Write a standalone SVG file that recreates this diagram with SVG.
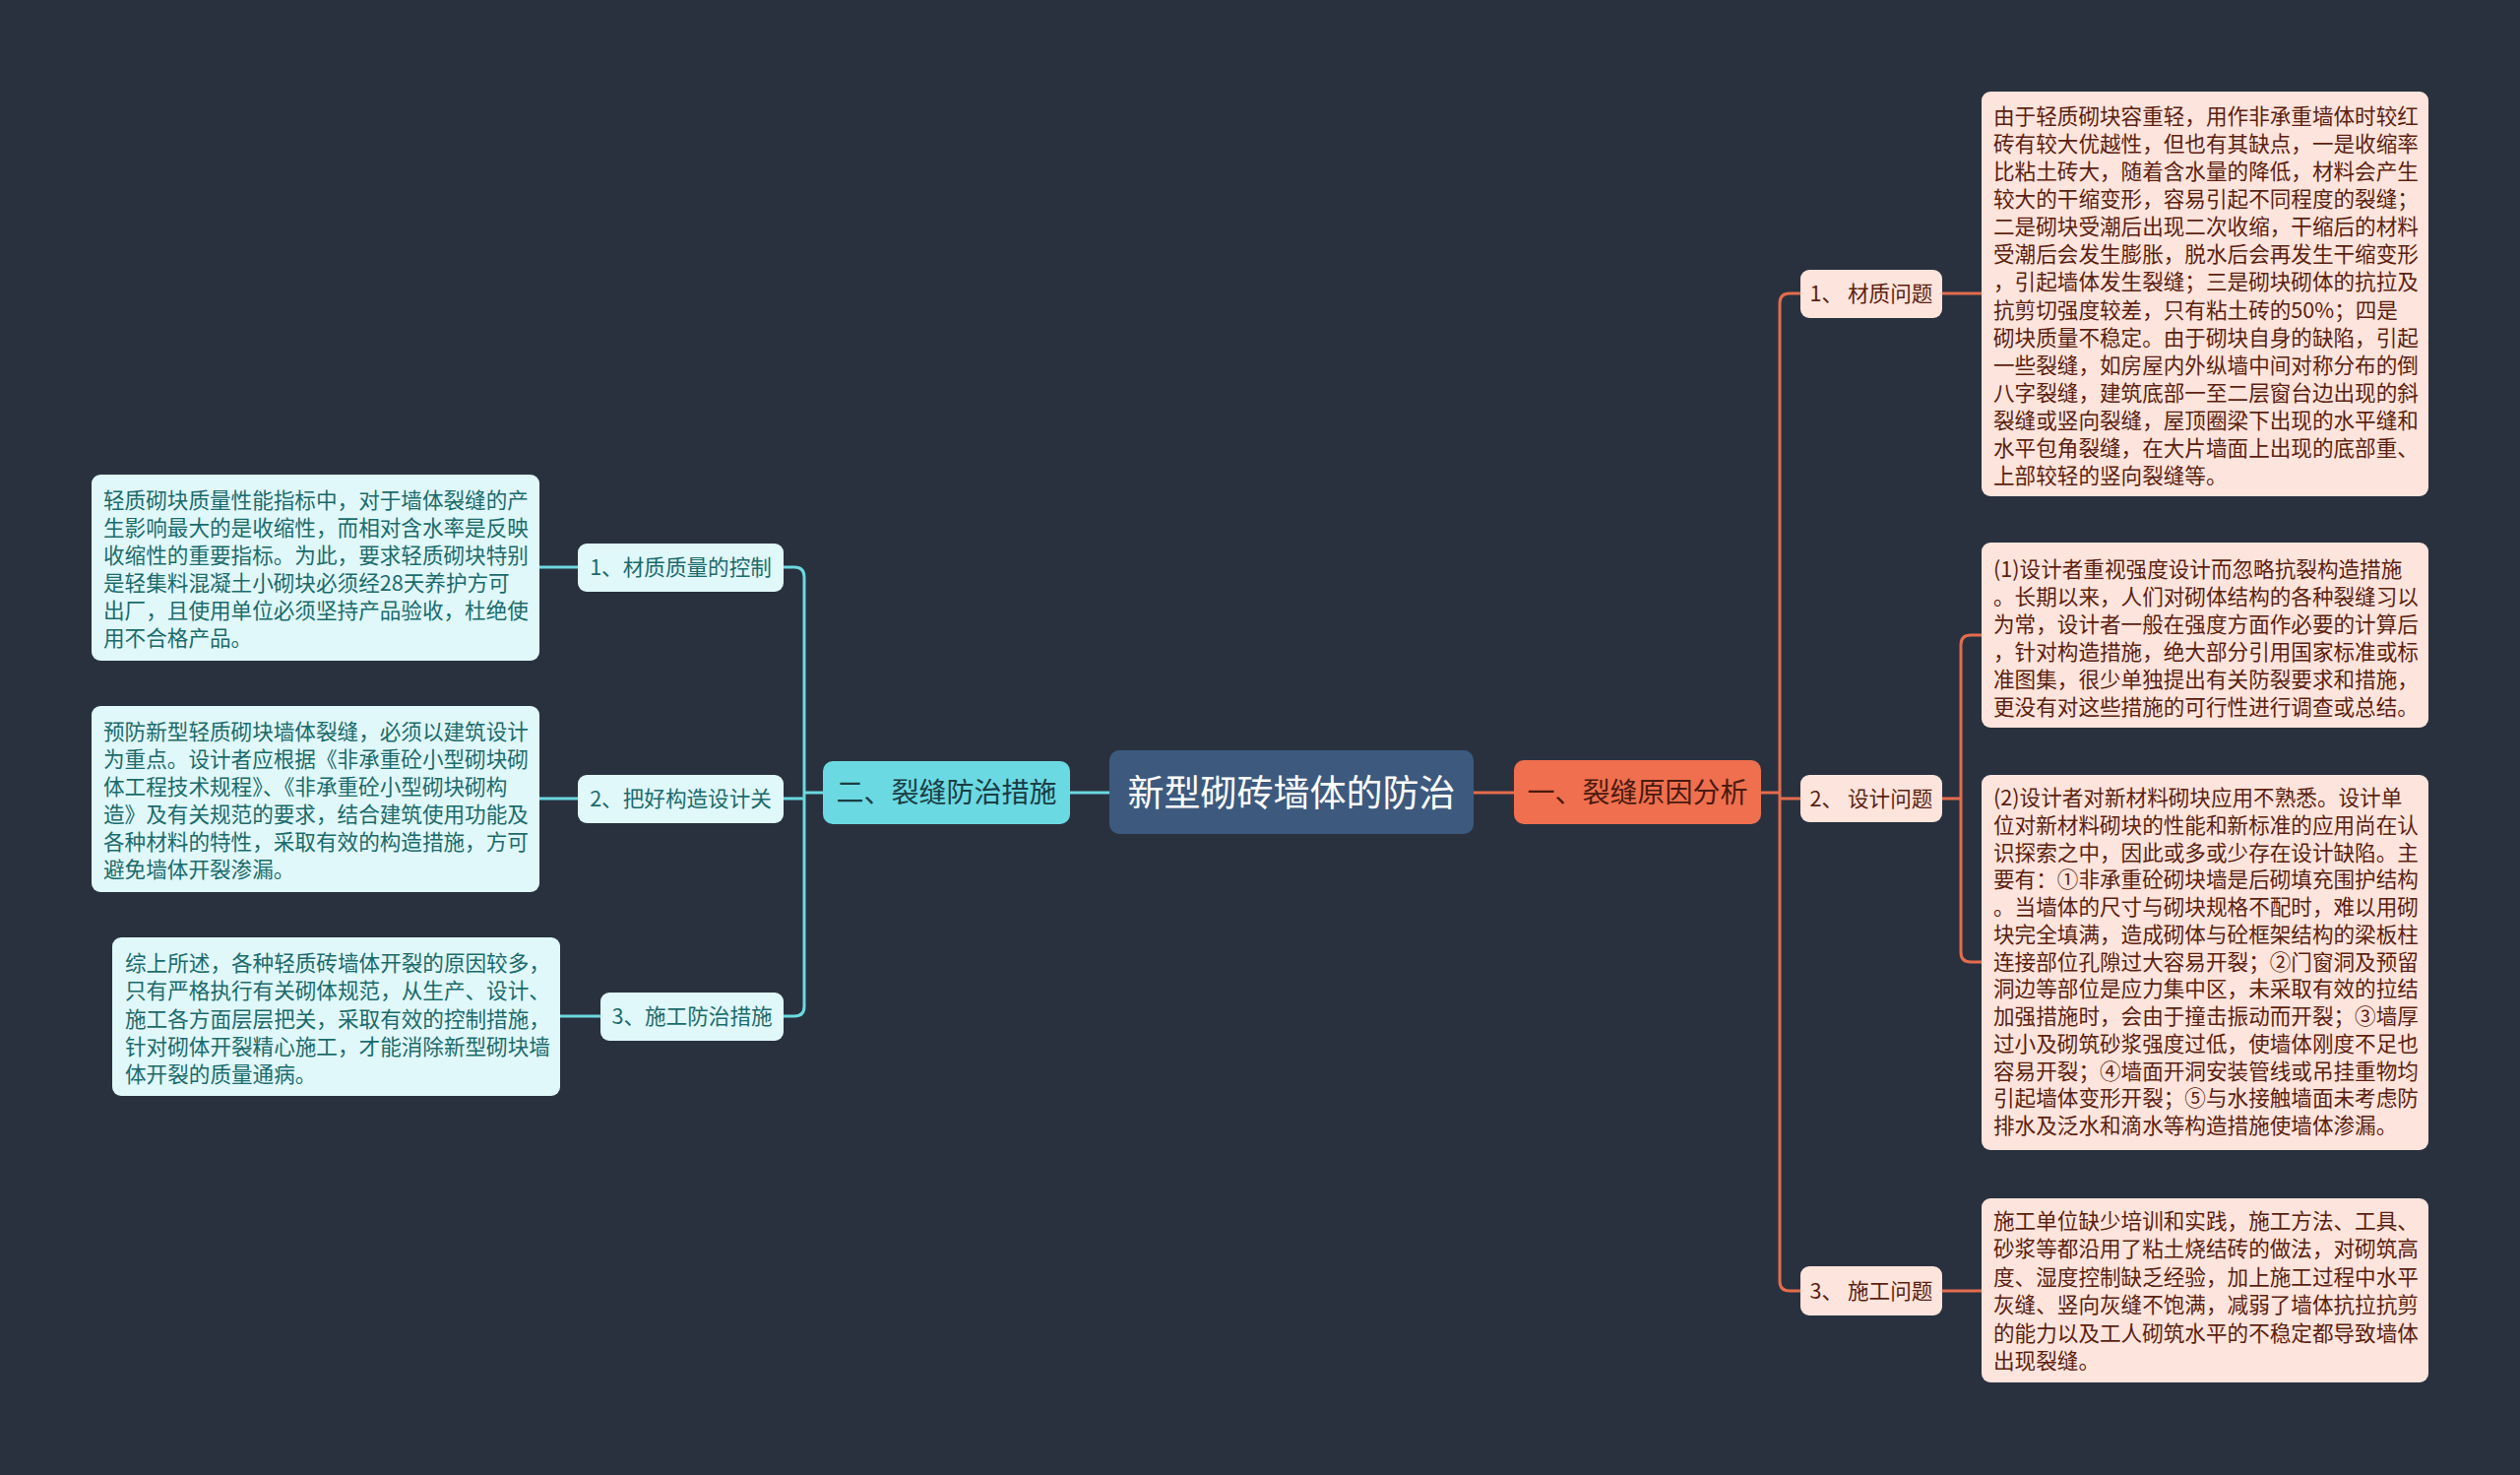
<svg xmlns="http://www.w3.org/2000/svg" width="2560" height="1498" viewBox="0 0 2560 1498">
<style>
.t{font-family:"Noto Sans CJK SC","Noto Sans",sans-serif;}
.leafR{fill:#fde4dc;}
.leafL{fill:#e0f8fa;}
.tr{fill:#5c1f10;font-size:21.6px;}
.tl{fill:#1b6b6c;font-size:21.6px;}
.co{fill:none;stroke:#e46c4d;stroke-width:3;}
.cc{fill:none;stroke:#6cd8e1;stroke-width:3;}
</style>
<rect width="2560" height="1498" fill="#29313f"/>
<g id="connectors">
<path class="co" d="M1497 805H1538"/>
<path class="co" d="M1789 805H1808"/>
<path class="co" d="M1829 298H1818Q1808 298 1808 308V1301Q1808 1311 1818 1311H1829"/>
<path class="co" d="M1808 811H1829"/>
<path class="co" d="M1973 298H2013"/>
<path class="co" d="M1973 811H1992"/>
<path class="co" d="M2013 645H2002Q1992 645 1992 655V967Q1992 977 2002 977H2013"/>
<path class="co" d="M1973 1311H2013"/>
<path class="cc" d="M1087 805H1127"/>
<path class="cc" d="M836 805H817"/>
<path class="cc" d="M796 576H807Q817 576 817 586V1022Q817 1032 807 1032H796"/>
<path class="cc" d="M796 811H817"/>
<path class="cc" d="M587 576H548"/>
<path class="cc" d="M587 811H548"/>
<path class="cc" d="M610 1032H569"/>
</g>
<g id="root">
<rect x="1127" y="762" width="370" height="85" rx="10" fill="#3d5a7e"/>
<text class="t" x="1312" y="819" text-anchor="middle" font-size="37" fill="#ffffff">新型砌砖墙体的防治</text>
</g>
<g id="b1">
<rect x="1538" y="772" width="251" height="65" rx="10" fill="#ef6f4e"/>
<text class="t" x="1663.5" y="815" text-anchor="middle" font-size="28" fill="#4a1a0e">一、裂缝原因分析</text>
</g>
<g id="b2">
<rect x="836" y="773" width="251" height="64" rx="10" fill="#6bd9e2"/>
<text class="t" x="961.5" y="815" text-anchor="middle" font-size="28" fill="#1a3d44">二、裂缝防治措施</text>
</g>
<g id="r1">
<rect class="leafR" x="1829" y="274" width="144" height="49" rx="9"/>
<text class="t tr" x="1901" y="306" text-anchor="middle">1、 材质问题</text>
</g>
<g id="r2">
<rect class="leafR" x="1829" y="787" width="144" height="48" rx="9"/>
<text class="t tr" x="1901" y="819" text-anchor="middle">2、 设计问题</text>
</g>
<g id="r3">
<rect class="leafR" x="1829" y="1286" width="144" height="50" rx="9"/>
<text class="t tr" x="1901" y="1319" text-anchor="middle">3、 施工问题</text>
</g>
<g id="r1a">
<rect class="leafR" x="2013" y="93" width="454" height="411" rx="9"/>
<text class="t tr" x="2025" y="126">
<tspan x="2025" dy="0">由于轻质砌块容重轻，用作非承重墙体时较红</tspan>
<tspan x="2025" dy="28.08">砖有较大优越性，但也有其缺点，一是收缩率</tspan>
<tspan x="2025" dy="28.08">比粘土砖大，随着含水量的降低，材料会产生</tspan>
<tspan x="2025" dy="28.08">较大的干缩变形，容易引起不同程度的裂缝；</tspan>
<tspan x="2025" dy="28.08">二是砌块受潮后出现二次收缩，干缩后的材料</tspan>
<tspan x="2025" dy="28.08">受潮后会发生膨胀，脱水后会再发生干缩变形</tspan>
<tspan x="2025" dy="28.08">，引起墙体发生裂缝；三是砌块砌体的抗拉及</tspan>
<tspan x="2025" dy="28.08">抗剪切强度较差，只有粘土砖的50%；四是</tspan>
<tspan x="2025" dy="28.08">砌块质量不稳定。由于砌块自身的缺陷，引起</tspan>
<tspan x="2025" dy="28.08">一些裂缝，如房屋内外纵墙中间对称分布的倒</tspan>
<tspan x="2025" dy="28.08">八字裂缝，建筑底部一至二层窗台边出现的斜</tspan>
<tspan x="2025" dy="28.08">裂缝或竖向裂缝，屋顶圈梁下出现的水平缝和</tspan>
<tspan x="2025" dy="28.08">水平包角裂缝，在大片墙面上出现的底部重、</tspan>
<tspan x="2025" dy="28.08">上部较轻的竖向裂缝等。</tspan>
</text>
</g>
<g id="r2a">
<rect class="leafR" x="2013" y="551" width="454" height="188" rx="9"/>
<text class="t tr" x="2025" y="586">
<tspan x="2025" dy="0">(1)设计者重视强度设计而忽略抗裂构造措施</tspan>
<tspan x="2025" dy="28">。长期以来，人们对砌体结构的各种裂缝习以</tspan>
<tspan x="2025" dy="28">为常，设计者一般在强度方面作必要的计算后</tspan>
<tspan x="2025" dy="28">，针对构造措施，绝大部分引用国家标准或标</tspan>
<tspan x="2025" dy="28">准图集，很少单独提出有关防裂要求和措施，</tspan>
<tspan x="2025" dy="28">更没有对这些措施的可行性进行调查或总结。</tspan>
</text>
</g>
<g id="r2b">
<rect class="leafR" x="2013" y="787" width="454" height="381" rx="9"/>
<text class="t tr" x="2025" y="818">
<tspan x="2025" dy="0">(2)设计者对新材料砌块应用不熟悉。设计单</tspan>
<tspan x="2025" dy="27.75">位对新材料砌块的性能和新标准的应用尚在认</tspan>
<tspan x="2025" dy="27.75">识探索之中，因此或多或少存在设计缺陷。主</tspan>
<tspan x="2025" dy="27.75">要有：①非承重砼砌块墙是后砌填充围护结构</tspan>
<tspan x="2025" dy="27.75">。当墙体的尺寸与砌块规格不配时，难以用砌</tspan>
<tspan x="2025" dy="27.75">块完全填满，造成砌体与砼框架结构的梁板柱</tspan>
<tspan x="2025" dy="27.75">连接部位孔隙过大容易开裂；②门窗洞及预留</tspan>
<tspan x="2025" dy="27.75">洞边等部位是应力集中区，未采取有效的拉结</tspan>
<tspan x="2025" dy="27.75">加强措施时，会由于撞击振动而开裂；③墙厚</tspan>
<tspan x="2025" dy="27.75">过小及砌筑砂浆强度过低，使墙体刚度不足也</tspan>
<tspan x="2025" dy="27.75">容易开裂；④墙面开洞安装管线或吊挂重物均</tspan>
<tspan x="2025" dy="27.75">引起墙体变形开裂；⑤与水接触墙面未考虑防</tspan>
<tspan x="2025" dy="27.75">排水及泛水和滴水等构造措施使墙体渗漏。</tspan>
</text>
</g>
<g id="r3a">
<rect class="leafR" x="2013" y="1217" width="454" height="187" rx="9"/>
<text class="t tr" x="2025" y="1248">
<tspan x="2025" dy="0">施工单位缺少培训和实践，施工方法、工具、</tspan>
<tspan x="2025" dy="28.4">砂浆等都沿用了粘土烧结砖的做法，对砌筑高</tspan>
<tspan x="2025" dy="28.4">度、湿度控制缺乏经验，加上施工过程中水平</tspan>
<tspan x="2025" dy="28.4">灰缝、竖向灰缝不饱满，减弱了墙体抗拉抗剪</tspan>
<tspan x="2025" dy="28.4">的能力以及工人砌筑水平的不稳定都导致墙体</tspan>
<tspan x="2025" dy="28.4">出现裂缝。</tspan>
</text>
</g>
<g id="l1">
<rect class="leafL" x="587" y="552" width="209" height="49" rx="9"/>
<text class="t tl" x="691.5" y="584" text-anchor="middle">1、材质质量的控制</text>
</g>
<g id="l2">
<rect class="leafL" x="587" y="787" width="209" height="49" rx="9"/>
<text class="t tl" x="691.5" y="819" text-anchor="middle">2、把好构造设计关</text>
</g>
<g id="l3">
<rect class="leafL" x="610" y="1008" width="186" height="49" rx="9"/>
<text class="t tl" x="703" y="1040" text-anchor="middle">3、施工防治措施</text>
</g>
<g id="l1a">
<rect class="leafL" x="93" y="482" width="455" height="189" rx="9"/>
<text class="t tl" x="105" y="516">
<tspan x="105" dy="0">轻质砌块质量性能指标中，对于墙体裂缝的产</tspan>
<tspan x="105" dy="28">生影响最大的是收缩性，而相对含水率是反映</tspan>
<tspan x="105" dy="28">收缩性的重要指标。为此，要求轻质砌块特别</tspan>
<tspan x="105" dy="28">是轻集料混凝土小砌块必须经28天养护方可</tspan>
<tspan x="105" dy="28">出厂，且使用单位必须坚持产品验收，杜绝使</tspan>
<tspan x="105" dy="28">用不合格产品。</tspan>
</text>
</g>
<g id="l2a">
<rect class="leafL" x="93" y="717" width="455" height="189" rx="9"/>
<text class="t tl" x="105" y="751">
<tspan x="105" dy="0">预防新型轻质砌块墙体裂缝，必须以建筑设计</tspan>
<tspan x="105" dy="28">为重点。设计者应根据《非承重砼小型砌块砌</tspan>
<tspan x="105" dy="28">体工程技术规程》、《非承重砼小型砌块砌构</tspan>
<tspan x="105" dy="28">造》及有关规范的要求，结合建筑使用功能及</tspan>
<tspan x="105" dy="28">各种材料的特性，采取有效的构造措施，方可</tspan>
<tspan x="105" dy="28">避免墙体开裂渗漏。</tspan>
</text>
</g>
<g id="l3a">
<rect class="leafL" x="114" y="952" width="455" height="161" rx="9"/>
<text class="t tl" x="127" y="986">
<tspan x="127" dy="0">综上所述，各种轻质砖墙体开裂的原因较多，</tspan>
<tspan x="127" dy="28.3">只有严格执行有关砌体规范，从生产、设计、</tspan>
<tspan x="127" dy="28.3">施工各方面层层把关，采取有效的控制措施，</tspan>
<tspan x="127" dy="28.3">针对砌体开裂精心施工，才能消除新型砌块墙</tspan>
<tspan x="127" dy="28.3">体开裂的质量通病。</tspan>
</text>
</g>
</svg>
